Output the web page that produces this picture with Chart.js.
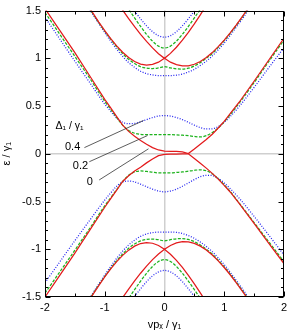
<!DOCTYPE html>
<html><head><meta charset="utf-8">
<script src="https://cdn.jsdelivr.net/npm/chart.js@4.4.1/dist/chart.umd.min.js"></script>
<style>html,body{margin:0;padding:0;background:#fff;}canvas{display:block;}</style>
</head><body>
<canvas id="c" width="291" height="335"></canvas>
<script>
// ---- data ----
const xTickValues = [-2, -1, 0, 1, 2];
const yTickValues = [-1.5, -1, -0.5, 0, 0.5, 1, 1.5];
const seriesLabels = ['0', '0.2', '0.4'];   // Δ1/γ1

const xLow = [-2,-1.75,-1.5,-1.25,-1,-0.9,-0.8,-0.7,-0.6,-0.5,-0.4,-0.3,-0.2,-0.1,0,0.1,0.2,0.3,0.4,0.5,0.6,0.7,0.8,0.9,1,1.1,1.25,1.5,1.75,2];
const xHigh = [-1.3,-1.2,-1.1,-1.0,-0.9,-0.8,-0.7,-0.6,-0.5,-0.4,-0.3,-0.2,-0.1,0,0.1,0.2,0.3,0.4,0.5,0.6,0.7,0.8,0.9,1.0,1.1,1.2,1.3,1.4];
const xTop = [-0.8,-0.7,-0.6,-0.5,-0.4,-0.3,-0.2,-0.1,0,0.1,0.2,0.3,0.4,0.5,0.6,0.7,0.8];

// Δ1/γ1 = 0 (red)
const redTop1 = [1.598,1.506,1.417,1.332,1.251,1.177,1.109,1.049,1.0,1.052,1.116,1.19,1.273,1.362,1.456,1.555,1.658];
const redTop2 = [1.575,1.476,1.380,1.290,1.206,1.130,1.064,1.009,0.967,0.940,0.930,0.937,0.960,1.0,0.960,0.934,0.921,0.922,0.938,0.967,1.008,1.060,1.122,1.191,1.267,1.349,1.435,1.524];
const redLowUp = [1.52,1.29,1.06,0.815,0.57,0.48,0.39,0.30,0.235,0.185,0.14,0.10,0.065,0.04,0.027,0.025,0.025,0.02,0.003,0.05,0.10,0.15,0.205,0.27,0.34,0.42,0.54,0.76,0.985,1.21];
const redLowDn = [-1.50,-1.27,-1.04,-0.80,-0.56,-0.47,-0.38,-0.29,-0.23,-0.18,-0.14,-0.095,-0.055,-0.02,-0.005,-0.003,-0.003,-0.002,0.0,-0.05,-0.10,-0.15,-0.205,-0.265,-0.33,-0.40,-0.52,-0.73,-0.94,-1.15];
const redBot2 = [-1.575,-1.476,-1.380,-1.290,-1.206,-1.130,-1.064,-1.009,-0.967,-0.940,-0.930,-0.937,-0.960,-1.0,-0.960,-0.934,-0.921,-0.922,-0.938,-0.967,-1.008,-1.060,-1.122,-1.191,-1.267,-1.349,-1.435,-1.524];
const redBot1 = [-1.598,-1.506,-1.417,-1.332,-1.251,-1.177,-1.109,-1.049,-1.0,-1.052,-1.116,-1.19,-1.273,-1.362,-1.456,-1.555,-1.658];

// Δ1/γ1 = 0.2 (green)
const greenTop1 = [1.703,1.608,1.514,1.423,1.334,1.252,1.18,1.128,1.108,1.128,1.18,1.252,1.334,1.423,1.514,1.608,1.703];
const greenTop2 = [1.57,1.47,1.375,1.285,1.20,1.12,1.05,0.99,0.945,0.912,0.897,0.893,0.90,0.912,0.90,0.89,0.888,0.897,0.92,0.955,1.0,1.05,1.115,1.185,1.26,1.343,1.43,1.52];
const greenLowUp = [1.48,1.25,1.02,0.79,0.55,0.465,0.38,0.30,0.245,0.215,0.203,0.2,0.2,0.2,0.2,0.2,0.198,0.195,0.19,0.182,0.177,0.19,0.222,0.27,0.335,0.41,0.53,0.745,0.97,1.19];
const greenLowDn = [-1.46,-1.235,-1.01,-0.78,-0.545,-0.46,-0.375,-0.29,-0.225,-0.19,-0.18,-0.185,-0.193,-0.2,-0.2,-0.2,-0.195,-0.19,-0.182,-0.173,-0.168,-0.178,-0.21,-0.262,-0.325,-0.395,-0.515,-0.72,-0.925,-1.13];
const greenBot2 = [-1.57,-1.47,-1.375,-1.285,-1.20,-1.12,-1.05,-0.99,-0.945,-0.912,-0.897,-0.893,-0.90,-0.912,-0.90,-0.89,-0.888,-0.897,-0.92,-0.955,-1.0,-1.05,-1.115,-1.185,-1.26,-1.343,-1.43,-1.52];
const greenBot1 = [-1.703,-1.608,-1.514,-1.423,-1.334,-1.252,-1.18,-1.128,-1.108,-1.128,-1.18,-1.252,-1.334,-1.423,-1.514,-1.608,-1.703];

// Δ1/γ1 = 0.4 (blue)
const blueTop1 = [1.763,1.672,1.582,1.495,1.414,1.34,1.279,1.237,1.222,1.237,1.279,1.34,1.414,1.495,1.582,1.672,1.763];
const blueTop2 = [1.56,1.46,1.365,1.27,1.18,1.095,1.02,0.955,0.905,0.865,0.84,0.826,0.82,0.82,0.82,0.823,0.835,0.857,0.885,0.925,0.97,1.025,1.09,1.16,1.24,1.325,1.41,1.50];
const blueLowUp = [1.43,1.20,0.97,0.745,0.52,0.445,0.375,0.33,0.315,0.318,0.335,0.358,0.38,0.395,0.40,0.395,0.38,0.358,0.33,0.30,0.275,0.26,0.262,0.285,0.33,0.39,0.495,0.695,0.905,1.11];
const blueLowDn = [-1.35,-1.13,-0.91,-0.695,-0.485,-0.41,-0.34,-0.295,-0.285,-0.295,-0.318,-0.345,-0.37,-0.39,-0.398,-0.39,-0.37,-0.34,-0.305,-0.27,-0.24,-0.225,-0.228,-0.258,-0.305,-0.365,-0.465,-0.655,-0.855,-1.06];
const blueBot2 = [-1.56,-1.46,-1.365,-1.27,-1.18,-1.095,-1.02,-0.955,-0.905,-0.865,-0.84,-0.826,-0.82,-0.82,-0.82,-0.823,-0.835,-0.857,-0.885,-0.925,-0.97,-1.025,-1.09,-1.16,-1.24,-1.325,-1.41,-1.50];
const blueBot1 = [-1.763,-1.672,-1.582,-1.495,-1.414,-1.34,-1.279,-1.237,-1.222,-1.237,-1.279,-1.34,-1.414,-1.495,-1.582,-1.672,-1.763];

// ---- styles ----
const RED = '#e31a1c', GREEN = '#1db31d', BLUE = '#2323f0';
const FONT = '"Liberation Sans", Arial, Helvetica, sans-serif';

function ds(label, xs, ys, color, dash, smooth) {
  return {
    label: label,
    data: xs.map((x, i) => ({ x: x, y: ys[i] })),
    borderColor: color, borderWidth: 1.25, borderDash: dash,
    pointRadius: 0, showLine: true, fill: false,
    tension: 0, cubicInterpolationMode: smooth ? 'monotone' : 'default'
  };
}

const datasets = [
  ds(seriesLabels[0], xTop, redTop1, RED, [], false),
  ds(seriesLabels[0], xHigh, redTop2, RED, [], false),
  ds(seriesLabels[0], xLow, redLowUp, RED, [], false),
  ds(seriesLabels[0], xLow, redLowDn, RED, [], false),
  ds(seriesLabels[0], xHigh, redBot2, RED, [], false),
  ds(seriesLabels[0], xTop, redBot1, RED, [], false),
  ds(seriesLabels[1], xTop, greenTop1, GREEN, [3, 1.5], true),
  ds(seriesLabels[1], xHigh, greenTop2, GREEN, [3, 1.5], true),
  ds(seriesLabels[1], xLow, greenLowUp, GREEN, [3, 1.5], true),
  ds(seriesLabels[1], xLow, greenLowDn, GREEN, [3, 1.5], true),
  ds(seriesLabels[1], xHigh, greenBot2, GREEN, [3, 1.5], true),
  ds(seriesLabels[1], xTop, greenBot1, GREEN, [3, 1.5], true),
  ds(seriesLabels[2], xTop, blueTop1, BLUE, [1, 1.6], true),
  ds(seriesLabels[2], xHigh, blueTop2, BLUE, [1, 1.6], true),
  ds(seriesLabels[2], xLow, blueLowUp, BLUE, [1, 1.6], true),
  ds(seriesLabels[2], xLow, blueLowDn, BLUE, [1, 1.6], true),
  ds(seriesLabels[2], xHigh, blueBot2, BLUE, [1, 1.6], true),
  ds(seriesLabels[2], xTop, blueBot1, BLUE, [1, 1.6], true)
];

// frame, inward ticks and the Δ1/γ1 annotation
const framePlugin = {
  id: 'frame',
  afterDraw(chart) {
    const ctx = chart.ctx, a = chart.chartArea, xs = chart.scales.x, ys = chart.scales.y;
    const L = Math.round(a.left) + 0.5, R = Math.round(a.right) - 0.5;
    const T = Math.round(a.top) + 0.5, B = Math.round(a.bottom) - 0.5;
    ctx.save();
    ctx.strokeStyle = '#000'; ctx.lineWidth = 1;
    ctx.beginPath();
    for (let k = -15; k <= 15; k++) {
      const py = Math.round(ys.getPixelForValue(k / 10)) + 0.5;
      const len = (k % 5 === 0) ? 5 : 2.5;
      ctx.moveTo(L, py); ctx.lineTo(L + len, py);
      ctx.moveTo(R, py); ctx.lineTo(R - len, py);
    }
    for (let k = -4; k <= 4; k++) {
      const px = Math.round(xs.getPixelForValue(k / 2)) + 0.5;
      const len = (k % 2 === 0) ? 5 : 3;
      ctx.moveTo(px, B); ctx.lineTo(px, B - len);
      ctx.moveTo(px, T); ctx.lineTo(px, T + len);
    }
    ctx.stroke();
    ctx.strokeRect(L, T, R - L, B - T);

    // leader lines (data coordinates)
    const leaders = [
      [-1.34, 0.065, -0.35, 0.349],
      [-1.258, -0.083, -0.285, 0.191],
      [-1.093, -0.274, -0.268, 0.052]
    ];
    ctx.strokeStyle = '#333'; ctx.lineWidth = 0.8;
    ctx.beginPath();
    leaders.forEach(l => {
      ctx.moveTo(xs.getPixelForValue(l[0]), ys.getPixelForValue(l[1]));
      ctx.lineTo(xs.getPixelForValue(l[2]), ys.getPixelForValue(l[3]));
    });
    ctx.stroke();

    ctx.fillStyle = '#000';
    ctx.textAlign = 'center'; ctx.textBaseline = 'middle';
    ctx.font = '10.5px ' + FONT;
    ctx.fillText('Δ₁ / γ₁', xs.getPixelForValue(-1.588), ys.getPixelForValue(0.285));
    ctx.font = '11px ' + FONT;
    ctx.fillText(seriesLabels[2], xs.getPixelForValue(-1.538), ys.getPixelForValue(0.067));
    ctx.fillText(seriesLabels[1], xs.getPixelForValue(-1.406), ys.getPixelForValue(-0.124));
    ctx.fillText(seriesLabels[0], xs.getPixelForValue(-1.249), ys.getPixelForValue(-0.30));
    ctx.restore();
  }
};

const zeroGrid = (c) => (c.tick && c.tick.value === 0) ? '#cfcfcf' : 'rgba(0,0,0,0)';

new Chart(document.getElementById('c'), {
  type: 'scatter',
  data: { datasets: datasets },
  options: {
    responsive: false, animation: false, devicePixelRatio: 1,
    layout: { padding: { top: 7, right: 3, left: 0, bottom: 0 } },
    plugins: { legend: { display: false }, tooltip: { enabled: false } },
    scales: {
      x: {
        type: 'linear', min: -2, max: 2,
        afterBuildTicks: s => { s.ticks = xTickValues.map(v => ({ value: v })); },
        afterFit: s => { s.height = 38; },
        ticks: { color: '#000', font: { family: FONT, size: 11 }, padding: 4, maxRotation: 0,
                 callback: v => String(v) },
        grid: { color: zeroGrid, lineWidth: 1.5, drawTicks: false },
        border: { display: false },
        title: { display: true, text: 'vpₓ / γ₁', color: '#000',
                 font: { family: FONT, size: 11 }, padding: { top: 0, bottom: 3 } }
      },
      y: {
        type: 'linear', min: -1.5, max: 1.5,
        afterBuildTicks: s => { s.ticks = yTickValues.map(v => ({ value: v })); },
        afterFit: s => { s.width = 45; },
        ticks: { color: '#000', font: { family: FONT, size: 11 }, padding: 4,
                 callback: v => String(v) },
        grid: { color: zeroGrid, lineWidth: 1.5, drawTicks: false },
        border: { display: false },
        title: { display: true, text: 'ε / γ₁', color: '#000',
                 font: { family: FONT, size: 11 }, padding: { top: 0, bottom: 0 } }
      }
    }
  },
  plugins: [framePlugin]
});
</script>
</body></html>
